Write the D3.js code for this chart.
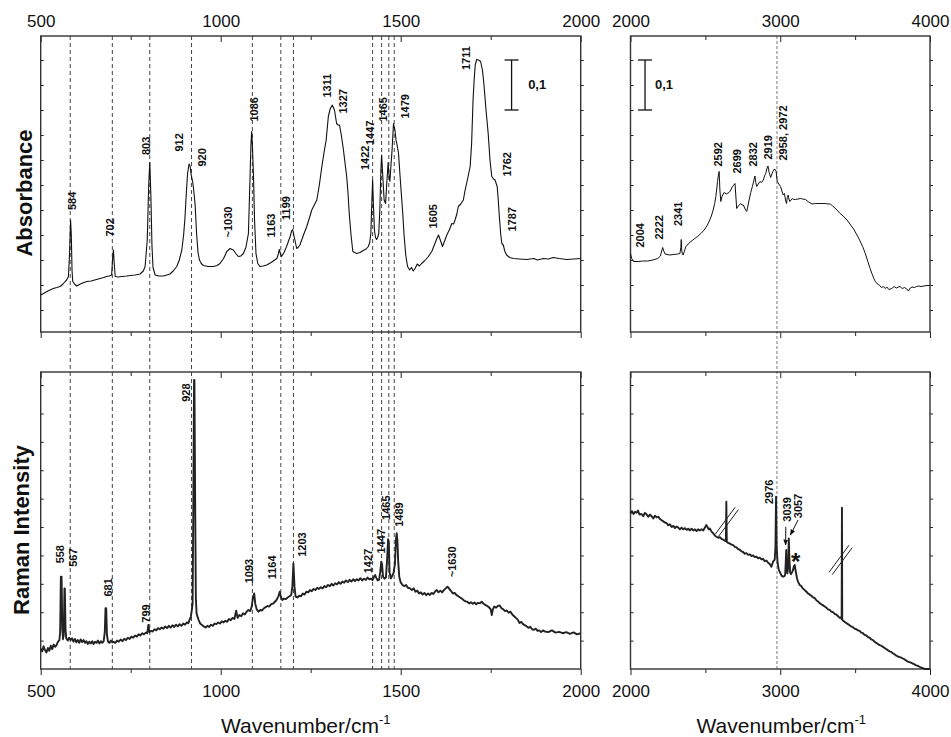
<!DOCTYPE html>
<html>
<head>
<meta charset="utf-8">
<script src="https://cdn.jsdelivr.net/npm/d3@7"></script>
<style>
  body { margin: 0; background: #fff; }
  text { font-family: Arial, "Liberation Sans", sans-serif; }
</style>
</head>
<body>
<svg id="chart" width="951" height="737"></svg>
<script>
// IR absorbance, 500-2000 cm-1  [wavenumber, absorbance]
const irLow = [[500,0.030],[510,0.034],[520,0.038],[526,0.040],[535,0.043],[545,0.045],[554,0.047],[562,0.052],[568,0.057],[572,0.060],[577,0.067],[580,0.110],[583,0.180],[585,0.150],[587,0.080],[589,0.057],[594,0.052],[600,0.048],[610,0.052],[620,0.055],[628,0.057],[640,0.058],[650,0.060],[665,0.063],[675,0.065],[683,0.067],[690,0.068],[697,0.070],[700,0.105],[702,0.120],[704,0.095],[707,0.067],[715,0.066],[725,0.067],[739,0.068],[750,0.069],[762,0.070],[776,0.072],[785,0.078],[790,0.087],[796,0.140],[800,0.250],[803,0.295],[806,0.230],[809,0.130],[812,0.085],[818,0.070],[828,0.068],[841,0.068],[850,0.070],[859,0.072],[868,0.078],[878,0.087],[885,0.100],[892,0.120],[897,0.150],[901,0.187],[905,0.240],[908,0.273],[912,0.292],[915,0.288],[918,0.270],[922,0.257],[925,0.240],[929,0.210],[933,0.153],[937,0.115],[941,0.100],[946,0.093],[952,0.089],[965,0.087],[980,0.087],[990,0.089],[998,0.093],[1008,0.103],[1017,0.117],[1026,0.123],[1035,0.120],[1043,0.112],[1049,0.107],[1056,0.108],[1063,0.113],[1070,0.125],[1077,0.153],[1081,0.253],[1084,0.330],[1086,0.357],[1088,0.330],[1091,0.270],[1094,0.180],[1098,0.113],[1103,0.093],[1109,0.087],[1118,0.088],[1128,0.090],[1140,0.095],[1150,0.100],[1156,0.103],[1160,0.112],[1163,0.121],[1166,0.112],[1169,0.107],[1176,0.115],[1183,0.127],[1188,0.137],[1193,0.147],[1197,0.158],[1200,0.161],[1203,0.150],[1207,0.137],[1211,0.123],[1215,0.125],[1220,0.130],[1230,0.150],[1239,0.167],[1246,0.183],[1253,0.200],[1260,0.210],[1267,0.220],[1274,0.250],[1281,0.287],[1287,0.315],[1293,0.340],[1299,0.387],[1304,0.402],[1310,0.410],[1316,0.400],[1322,0.373],[1326,0.370],[1330,0.370],[1335,0.350],[1341,0.320],[1346,0.290],[1350,0.267],[1354,0.230],[1357,0.193],[1362,0.150],[1367,0.117],[1372,0.115],[1378,0.113],[1387,0.115],[1396,0.119],[1404,0.122],[1410,0.127],[1414,0.135],[1417,0.153],[1420,0.220],[1422,0.260],[1424,0.215],[1427,0.160],[1430,0.145],[1433,0.141],[1436,0.145],[1439,0.153],[1442,0.200],[1445,0.280],[1447,0.310],[1450,0.270],[1454,0.220],[1458,0.213],[1461,0.250],[1465,0.295],[1468,0.265],[1470,0.257],[1473,0.290],[1476,0.320],[1480,0.373],[1484,0.360],[1487,0.340],[1490,0.330],[1494,0.313],[1498,0.270],[1503,0.220],[1506,0.190],[1509,0.153],[1514,0.110],[1519,0.087],[1525,0.080],[1530,0.085],[1535,0.078],[1540,0.083],[1546,0.092],[1552,0.088],[1558,0.093],[1566,0.098],[1577,0.107],[1587,0.118],[1595,0.133],[1600,0.142],[1605,0.150],[1610,0.140],[1616,0.127],[1622,0.138],[1628,0.150],[1635,0.160],[1642,0.173],[1647,0.172],[1651,0.180],[1656,0.192],[1660,0.207],[1667,0.212],[1674,0.220],[1679,0.240],[1683,0.253],[1688,0.270],[1693,0.287],[1697,0.333],[1701,0.420],[1704,0.460],[1707,0.490],[1711,0.501],[1716,0.500],[1722,0.497],[1727,0.480],[1731,0.453],[1737,0.400],[1743,0.353],[1748,0.300],[1753,0.267],[1758,0.262],[1762,0.260],[1768,0.247],[1771,0.220],[1774,0.187],[1778,0.150],[1781,0.133],[1785,0.130],[1789,0.118],[1794,0.110],[1803,0.105],[1813,0.103],[1830,0.102],[1850,0.101],[1870,0.103],[1880,0.100],[1896,0.103],[1910,0.102],[1924,0.105],[1940,0.103],[1961,0.101],[1980,0.102],[2000,0.103]];

// IR absorbance, 2000-4000 cm-1
const irHigh = [[2000,0.113],[2008,0.103],[2020,0.097],[2050,0.097],[2080,0.098],[2115,0.098],[2150,0.100],[2182,0.103],[2200,0.108],[2208,0.118],[2215,0.125],[2222,0.118],[2231,0.112],[2259,0.110],[2290,0.111],[2315,0.112],[2330,0.113],[2336,0.125],[2339,0.141],[2342,0.120],[2346,0.112],[2352,0.110],[2359,0.117],[2370,0.127],[2385,0.132],[2403,0.137],[2425,0.142],[2448,0.147],[2470,0.153],[2492,0.160],[2510,0.168],[2525,0.177],[2540,0.188],[2552,0.200],[2562,0.213],[2570,0.227],[2576,0.242],[2581,0.257],[2587,0.270],[2592,0.277],[2597,0.240],[2603,0.217],[2612,0.228],[2625,0.235],[2640,0.232],[2658,0.235],[2670,0.240],[2681,0.247],[2690,0.250],[2698,0.253],[2703,0.230],[2709,0.203],[2720,0.208],[2736,0.213],[2745,0.210],[2754,0.210],[2765,0.202],[2776,0.197],[2784,0.208],[2792,0.220],[2803,0.235],[2814,0.247],[2823,0.258],[2831,0.268],[2837,0.255],[2843,0.247],[2853,0.252],[2865,0.257],[2876,0.255],[2887,0.260],[2895,0.268],[2903,0.273],[2910,0.282],[2918,0.288],[2926,0.275],[2936,0.265],[2944,0.272],[2951,0.277],[2958,0.281],[2966,0.281],[2972,0.278],[2980,0.257],[2990,0.252],[3002,0.247],[3011,0.238],[3020,0.230],[3028,0.233],[3035,0.220],[3042,0.213],[3047,0.225],[3053,0.230],[3058,0.222],[3064,0.217],[3072,0.220],[3080,0.223],[3090,0.221],[3102,0.221],[3118,0.222],[3135,0.223],[3150,0.222],[3168,0.221],[3190,0.216],[3213,0.212],[3235,0.213],[3257,0.213],[3280,0.213],[3300,0.213],[3320,0.212],[3335,0.212],[3350,0.208],[3365,0.204],[3379,0.200],[3400,0.193],[3420,0.188],[3446,0.180],[3470,0.170],[3490,0.162],[3512,0.150],[3530,0.140],[3550,0.127],[3568,0.113],[3585,0.097],[3600,0.083],[3612,0.073],[3625,0.063],[3635,0.057],[3645,0.053],[3655,0.051],[3665,0.049],[3675,0.045],[3690,0.047],[3700,0.043],[3712,0.046],[3725,0.041],[3745,0.043],[3760,0.047],[3775,0.044],[3790,0.046],[3800,0.047],[3815,0.043],[3830,0.045],[3845,0.042],[3856,0.038],[3868,0.044],[3880,0.046],[3895,0.045],[3911,0.047],[3925,0.048],[3940,0.047],[3960,0.048],[3980,0.049],[4000,0.049]];

// Raman intensity (arb. units), 500-2000 cm-1
const ramanLow = [[500,0.72],[504,0.62],[508,0.80],[512,0.66],[516,0.58],[520,0.74],[524,0.64],[528,0.82],[532,0.70],[536,0.86],[540,0.78],[544,0.84],[548,0.96],[552,1.02],[554,1.30],[556,3.25],[558,3.25],[560,1.40],[562,1.05],[564,1.20],[566,2.84],[567,2.84],[569,1.40],[571,1.08],[575,1.00],[579,1.10],[583,1.02],[587,1.08],[591,0.96],[595,1.06],[599,0.94],[603,1.02],[607,0.92],[611,1.04],[615,0.95],[619,1.02],[623,0.92],[627,0.98],[631,0.88],[635,0.96],[639,0.90],[643,0.98],[647,0.88],[651,0.96],[655,0.92],[659,1.00],[663,0.90],[667,0.98],[671,0.92],[675,0.98],[678,1.30],[680,2.14],[682,2.14],[684,1.20],[687,0.96],[691,0.92],[695,1.00],[699,0.94],[702,0.96],[707,0.92],[712,1.00],[717,0.96],[722,1.04],[727,0.98],[732,1.06],[737,1.02],[742,1.10],[747,1.06],[752,1.14],[757,1.10],[762,1.18],[767,1.14],[772,1.22],[777,1.18],[782,1.26],[787,1.22],[792,1.28],[796,1.26],[799,1.55],[802,1.30],[806,1.34],[811,1.32],[816,1.40],[821,1.36],[826,1.44],[831,1.40],[836,1.46],[841,1.42],[846,1.50],[851,1.44],[856,1.52],[861,1.46],[866,1.54],[871,1.48],[876,1.56],[881,1.50],[886,1.58],[891,1.52],[896,1.60],[901,1.56],[906,1.64],[910,1.61],[914,1.75],[917,1.84],[920,2.10],[922,2.30],[924,6.00],[926,10.18],[927,10.18],[929,6.00],[931,2.50],[933,1.95],[938,1.75],[943,1.60],[948,1.55],[953,1.50],[958,1.46],[963,1.52],[968,1.48],[973,1.56],[978,1.52],[983,1.60],[988,1.58],[993,1.64],[998,1.60],[1003,1.68],[1008,1.64],[1013,1.70],[1018,1.66],[1023,1.76],[1028,1.72],[1033,1.80],[1038,1.76],[1043,2.05],[1047,1.80],[1052,1.90],[1057,1.86],[1062,1.96],[1067,1.92],[1072,2.02],[1077,2.08],[1082,2.04],[1086,2.19],[1090,2.55],[1093,2.66],[1096,2.30],[1100,2.10],[1105,2.02],[1110,2.08],[1115,2.06],[1120,2.14],[1125,2.18],[1130,2.22],[1135,2.20],[1140,2.28],[1145,2.30],[1150,2.36],[1155,2.43],[1160,2.55],[1164,2.72],[1167,2.55],[1171,2.43],[1176,2.48],[1181,2.46],[1186,2.52],[1191,2.56],[1196,2.61],[1199,2.90],[1202,3.72],[1205,2.90],[1208,2.55],[1213,2.52],[1218,2.58],[1223,2.56],[1228,2.66],[1233,2.62],[1238,2.72],[1243,2.70],[1248,2.78],[1253,2.74],[1258,2.82],[1263,2.78],[1268,2.86],[1273,2.82],[1278,2.88],[1283,2.84],[1288,2.92],[1293,2.88],[1298,2.96],[1303,2.92],[1308,3.00],[1313,2.94],[1318,3.02],[1323,2.98],[1328,3.06],[1333,3.00],[1338,3.08],[1343,3.04],[1348,3.12],[1353,3.06],[1358,3.14],[1363,3.08],[1368,3.16],[1373,3.10],[1378,3.16],[1383,3.12],[1388,3.20],[1393,3.12],[1398,3.18],[1403,3.14],[1408,3.22],[1413,3.16],[1418,3.18],[1422,3.13],[1426,3.25],[1429,3.31],[1432,3.22],[1436,3.12],[1440,3.15],[1443,3.40],[1446,3.78],[1448,3.70],[1451,3.25],[1455,3.18],[1459,3.23],[1462,3.80],[1465,4.57],[1467,4.45],[1469,3.40],[1473,3.19],[1477,3.30],[1480,3.37],[1484,3.70],[1487,4.60],[1489,4.78],[1491,4.50],[1493,3.80],[1496,3.25],[1500,3.05],[1505,2.96],[1510,2.92],[1515,2.96],[1520,2.86],[1526,2.84],[1531,2.78],[1536,2.84],[1541,2.72],[1546,2.76],[1551,2.66],[1556,2.70],[1561,2.62],[1566,2.68],[1571,2.60],[1576,2.66],[1581,2.61],[1586,2.68],[1591,2.64],[1596,2.74],[1600,2.78],[1605,2.70],[1610,2.76],[1615,2.70],[1620,2.78],[1625,2.84],[1630,2.90],[1635,2.82],[1640,2.74],[1645,2.66],[1650,2.68],[1655,2.60],[1660,2.56],[1665,2.52],[1670,2.48],[1675,2.42],[1680,2.38],[1685,2.37],[1690,2.31],[1695,2.35],[1700,2.30],[1705,2.34],[1710,2.28],[1715,2.33],[1720,2.31],[1725,2.37],[1730,2.30],[1735,2.26],[1740,2.22],[1745,2.18],[1750,2.10],[1753,1.90],[1756,2.10],[1760,2.20],[1765,2.16],[1770,2.22],[1775,2.24],[1780,2.14],[1785,2.10],[1790,2.04],[1795,2.06],[1800,1.98],[1805,2.02],[1810,1.92],[1815,1.86],[1820,1.80],[1825,1.74],[1830,1.62],[1835,1.66],[1840,1.58],[1845,1.54],[1850,1.50],[1855,1.45],[1860,1.49],[1865,1.40],[1870,1.38],[1875,1.42],[1880,1.34],[1885,1.36],[1890,1.30],[1895,1.36],[1900,1.32],[1910,1.30],[1920,1.36],[1930,1.28],[1940,1.31],[1950,1.26],[1960,1.30],[1970,1.24],[1980,1.29],[1990,1.22],[2000,1.26]];

// Raman intensity, 2000-4000 cm-1 (spikes at 2640 and 3412 are cut off)
const ramanHigh = [[2000,5.48],[2010,5.56],[2020,5.46],[2030,5.54],[2041,5.50],[2050,5.58],[2060,5.44],[2074,5.46],[2085,5.38],[2096,5.50],[2108,5.44],[2118,5.36],[2130,5.44],[2141,5.38],[2152,5.30],[2163,5.40],[2174,5.34],[2186,5.36],[2197,5.28],[2208,5.24],[2219,5.20],[2230,5.16],[2241,5.14],[2252,5.06],[2263,5.10],[2275,5.00],[2286,5.04],[2297,4.96],[2308,5.02],[2319,4.98],[2330,4.92],[2341,4.98],[2352,4.92],[2364,4.96],[2375,4.90],[2386,4.94],[2397,4.88],[2408,4.94],[2419,4.88],[2430,4.92],[2441,4.86],[2452,4.92],[2463,4.88],[2475,4.92],[2486,4.88],[2497,4.98],[2506,5.07],[2514,5.00],[2522,4.92],[2530,4.95],[2541,4.84],[2552,4.78],[2563,4.70],[2574,4.66],[2586,4.62],[2597,4.64],[2608,4.58],[2619,4.56],[2630,4.52],[2637,4.50],[2640,5.89],[2643,4.48],[2652,4.44],[2663,4.42],[2674,4.38],[2686,4.36],[2697,4.30],[2708,4.28],[2719,4.22],[2730,4.20],[2741,4.14],[2752,4.12],[2763,4.06],[2774,4.08],[2786,4.02],[2797,4.04],[2808,3.98],[2819,4.00],[2830,3.94],[2841,3.96],[2852,3.90],[2863,3.92],[2874,3.86],[2885,3.88],[2896,3.80],[2908,3.82],[2919,3.74],[2930,3.70],[2941,3.60],[2952,3.78],[2963,3.85],[2968,4.30],[2972,6.07],[2976,4.30],[2982,3.75],[2990,3.50],[3001,3.37],[3010,3.28],[3019,3.25],[3027,3.27],[3033,3.32],[3037,3.80],[3040,4.19],[3043,3.50],[3048,3.37],[3053,3.60],[3057,4.60],[3061,3.90],[3066,3.40],[3072,3.34],[3080,3.42],[3086,3.50],[3091,3.62],[3097,3.66],[3103,3.45],[3112,3.19],[3120,3.06],[3130,2.96],[3140,2.92],[3150,2.84],[3163,2.78],[3175,2.72],[3186,2.66],[3197,2.62],[3208,2.58],[3219,2.52],[3230,2.50],[3241,2.42],[3252,2.38],[3263,2.32],[3274,2.28],[3286,2.24],[3297,2.20],[3308,2.16],[3319,2.10],[3330,2.08],[3341,2.02],[3352,2.00],[3363,1.94],[3374,1.92],[3386,1.86],[3397,1.80],[3405,1.82],[3410,1.76],[3412,5.68],[3414,1.74],[3420,1.70],[3430,1.66],[3441,1.62],[3452,1.58],[3463,1.54],[3474,1.50],[3486,1.47],[3497,1.42],[3508,1.40],[3519,1.36],[3530,1.34],[3541,1.28],[3552,1.26],[3563,1.20],[3575,1.18],[3586,1.12],[3597,1.10],[3608,1.04],[3619,1.02],[3630,0.96],[3641,0.92],[3652,0.88],[3663,0.84],[3674,0.82],[3686,0.78],[3697,0.74],[3708,0.70],[3719,0.66],[3730,0.62],[3741,0.60],[3752,0.55],[3763,0.52],[3775,0.47],[3786,0.44],[3797,0.42],[3808,0.40],[3819,0.37],[3830,0.34],[3841,0.30],[3852,0.26],[3863,0.24],[3874,0.22],[3886,0.19],[3897,0.16],[3908,0.13],[3919,0.11],[3930,0.08],[3941,0.05],[3952,0.03],[3963,0.01],[3975,0.00],[4000,0.00]];

// band markers shared by IR and Raman (left) and right
const bandLines = [582, 699, 803, 919, 1088, 1167, 1202, 1422, 1447, 1467, 1482];
const bandLineHigh = [2978];

// peak labels: [text, wavenumber, value at text start]
const irLowLabels = [['584',586,0.200],['702',692,0.147],['803',792,0.310],['912',884,0.317],['920',949,0.287],['~1030',1021,0.145],['1086',1092,0.377],['1163',1139,0.145],['1199',1181,0.180],['1311',1297,0.425],['1327',1341,0.393],['1422',1401,0.280],['1447',1415,0.330],['1465',1450,0.377],['1479',1512,0.383],['1605',1591,0.163],['1711',1683,0.480],['1762',1797,0.267],['1787',1810,0.157]];
const irHighLabels = [['2004',2063,0.125],['2222',2190,0.141],['2341',2319,0.168],['2592',2585,0.287],['2699',2712,0.273],['2832',2819,0.287],['2919',2919,0.301],['2958, 2972',3019,0.299]];
const ramanLowLabels = [['558',554,3.72],['567',589,3.60],['681',688,2.55],['799',792,1.63],['928',904,9.41],['1093',1079,3.02],['1164',1142,3.16],['1203',1225,3.95],['1427',1410,3.37],['1447',1447,4.07],['1465',1459,5.25],['1489',1495,5.01],['~1630',1643,3.23]];
const ramanHighLabels = [['2976',2923,5.81],['3039',3045,5.19],['3057',3119,5.31]];

// arrows [fromWn, fromV, toWn, toV] and break marks [wn, v]
const ramanArrows = [[3037,5.01,3036,4.37],[3119,5.25,3068,4.72]];
const breakMarks = [[2643,5.18],[3403,3.84]];

const xTicksLow = [500, 1000, 1500, 2000], xMinorLow = [750, 1250, 1750];
const xTicksHigh = [2000, 3000, 4000], xMinorHigh = [2500, 3500];
const irTicks = d3.range(0, 0.501, 0.05);
const ramanTicks = d3.range(1, 10.5, 1);

const svg = d3.select('#chart');
const font = 'Arial, "Liberation Sans", sans-serif';

const xLow = d3.scaleLinear().domain([500, 2000]).range([40.7, 580.7]);
const xHigh = d3.scaleLinear().domain([2000, 4000]).range([630.5, 930]);
const yIr = d3.scaleLinear().domain([-0.044, 0.548]).range([332, 36]);
const yRaman = d3.scaleLinear().domain([0, 10.46]).range([669, 372]);

// dashed band lines through both left panels
svg.append('g').selectAll('line').data(bandLines).enter().append('line')
  .attr('x1', d => xLow(d)).attr('x2', d => xLow(d))
  .attr('y1', yIr.range()[1]).attr('y2', yRaman.range()[0])
  .attr('stroke', '#444').attr('stroke-width', 1).attr('stroke-dasharray', '4,3');
svg.append('g').selectAll('line').data(bandLineHigh).enter().append('line')
  .attr('x1', d => xHigh(d)).attr('x2', d => xHigh(d))
  .attr('y1', yIr.range()[1]).attr('y2', yRaman.range()[0])
  .attr('stroke', '#777').attr('stroke-width', 1).attr('stroke-dasharray', '3,2');

function panel(x, y, majors, minors, yTicks, topLabels, bottomLabels) {
  const g = svg.append('g');
  const [x0, x1] = x.range(), [yb, yt] = y.range();
  const styleAxis = sel => {
    sel.select('.domain').remove();
    sel.attr('font-size', 17).attr('font-family', font).attr('color', '#222');
    sel.selectAll('text').attr('fill', '#111');
  };
  g.append('g').attr('transform', `translate(0,${yt})`)
    .call(d3.axisTop(x).tickValues(majors).tickSize(-6).tickPadding(9)
      .tickFormat(topLabels ? d3.format('d') : ''))
    .call(styleAxis);
  g.append('g').attr('transform', `translate(0,${yt})`)
    .call(d3.axisTop(x).tickValues(minors).tickSize(-4).tickFormat(''))
    .call(styleAxis);
  g.append('g').attr('transform', `translate(0,${yb})`)
    .call(d3.axisBottom(x).tickValues(majors).tickSize(6).tickPadding(10)
      .tickFormat(bottomLabels ? d3.format('d') : ''))
    .call(styleAxis);
  g.append('g').attr('transform', `translate(0,${yb})`)
    .call(d3.axisBottom(x).tickValues(minors).tickSize(4).tickFormat(''))
    .call(styleAxis);
  g.append('g').attr('transform', `translate(${x0},0)`)
    .call(d3.axisLeft(y).tickValues(yTicks).tickSize(-3).tickFormat(''))
    .call(styleAxis);
  g.append('g').attr('transform', `translate(${x1},0)`)
    .call(d3.axisRight(y).tickValues(yTicks).tickSize(3).tickFormat(''))
    .call(styleAxis);
  g.append('rect').attr('x', x0).attr('y', yt)
    .attr('width', x1 - x0).attr('height', yb - yt)
    .attr('fill', 'none').attr('stroke', '#333').attr('stroke-width', 1.4);
}

panel(xLow, yIr, xTicksLow, xMinorLow, irTicks, true, false);
panel(xHigh, yIr, xTicksHigh, xMinorHigh, irTicks, true, false);
panel(xLow, yRaman, xTicksLow, xMinorLow, ramanTicks, false, true);
panel(xHigh, yRaman, xTicksHigh, xMinorHigh, ramanTicks, false, true);

function spectrum(data, x, y, color, width) {
  const line = d3.line().x(d => x(d[0])).y(d => y(d[1]));
  svg.append('path').datum(data).attr('d', line)
    .attr('fill', 'none').attr('stroke', color)
    .attr('stroke-width', width).attr('stroke-linejoin', 'round');
}
spectrum(irLow, xLow, yIr, '#111', 1.1);
spectrum(irHigh, xHigh, yIr, '#111', 1.0);
spectrum(ramanLow, xLow, yRaman, '#222', 1.9);
spectrum(ramanHigh, xHigh, yRaman, '#222', 1.9);

function labels(data, x, y) {
  svg.append('g').selectAll('text').data(data).enter().append('text')
    .attr('transform', d => `translate(${x(d[1])},${y(d[2])}) rotate(-90)`)
    .attr('dy', '0.35em').attr('text-anchor', 'start')
    .attr('font-size', 11).attr('font-weight', 'bold').attr('fill', '#111')
    .text(d => d[0]);
}
labels(irLowLabels, xLow, yIr);
labels(irHighLabels, xHigh, yIr);
labels(ramanLowLabels, xLow, yRaman);
labels(ramanHighLabels, xHigh, yRaman);

// 0,1 absorbance scale bars
function scaleBar(x, wn, textWn) {
  const g = svg.append('g').attr('stroke', '#111').attr('stroke-width', 1.3);
  const px = x(wn);
  g.append('line').attr('x1', px).attr('x2', px).attr('y1', yIr(0.4)).attr('y2', yIr(0.5));
  [0.4, 0.5].forEach(v => g.append('line').attr('x1', px - 7).attr('x2', px + 7)
    .attr('y1', yIr(v)).attr('y2', yIr(v)));
  svg.append('text').attr('x', x(textWn)).attr('y', yIr(0.443))
    .attr('font-size', 13).attr('font-weight', 'bold').attr('fill', '#111').text('0,1');
}
scaleBar(xLow, 1808, 1854);
scaleBar(xHigh, 2097, 2163);

// arrows to 3039 / 3057
svg.append('defs').append('marker').attr('id', 'arrow')
  .attr('viewBox', '0 0 10 10').attr('refX', 9).attr('refY', 5)
  .attr('markerWidth', 6).attr('markerHeight', 6).attr('orient', 'auto')
  .append('path').attr('d', 'M0,1 L10,5 L0,9 Z').attr('fill', '#111');
svg.append('g').selectAll('line').data(ramanArrows).enter().append('line')
  .attr('x1', d => xHigh(d[0])).attr('y1', d => yRaman(d[1]))
  .attr('x2', d => xHigh(d[2])).attr('y2', d => yRaman(d[3]))
  .attr('stroke', '#111').attr('stroke-width', 1).attr('marker-end', 'url(#arrow)');

// asterisk on the 3090 band
svg.append('text').attr('x', xHigh(3103)).attr('y', yRaman(3.49))
  .attr('text-anchor', 'middle').attr('font-size', 24).attr('font-weight', 'bold')
  .attr('fill', '#111').text('*');

// axis break marks on cut-off spikes
breakMarks.forEach(([wn, v]) => {
  const cx = xHigh(wn), cy = yRaman(v);
  [-2, 2].forEach(o => {
    svg.append('line')
      .attr('x1', cx - 10 + o * 0.8).attr('y1', cy + 13.5 + o * 0.6)
      .attr('x2', cx + 10 + o * 0.8).attr('y2', cy - 13.5 + o * 0.6)
      .attr('stroke', '#222').attr('stroke-width', 1);
  });
});

// axis titles
svg.append('text').attr('transform', 'translate(32,193) rotate(-90)')
  .attr('text-anchor', 'middle').attr('font-size', 22).attr('font-weight', 'bold')
  .attr('fill', '#111').text('Absorbance');
svg.append('text').attr('transform', 'translate(29,530) rotate(-90)')
  .attr('text-anchor', 'middle').attr('font-size', 22).attr('font-weight', 'bold')
  .attr('fill', '#111').text('Raman Intensity');

[[xLow, -5], [xHigh, 1]].forEach(([x, shift]) => {
  const t = svg.append('text').attr('x', d3.mean(x.range()) + shift).attr('y', 733)
    .attr('text-anchor', 'middle').attr('font-size', 21).attr('fill', '#111');
  t.append('tspan').text('Wavenumber/cm');
  t.append('tspan').attr('dy', -9).attr('font-size', 13).text('-1');
});
</script>
</body>
</html>
